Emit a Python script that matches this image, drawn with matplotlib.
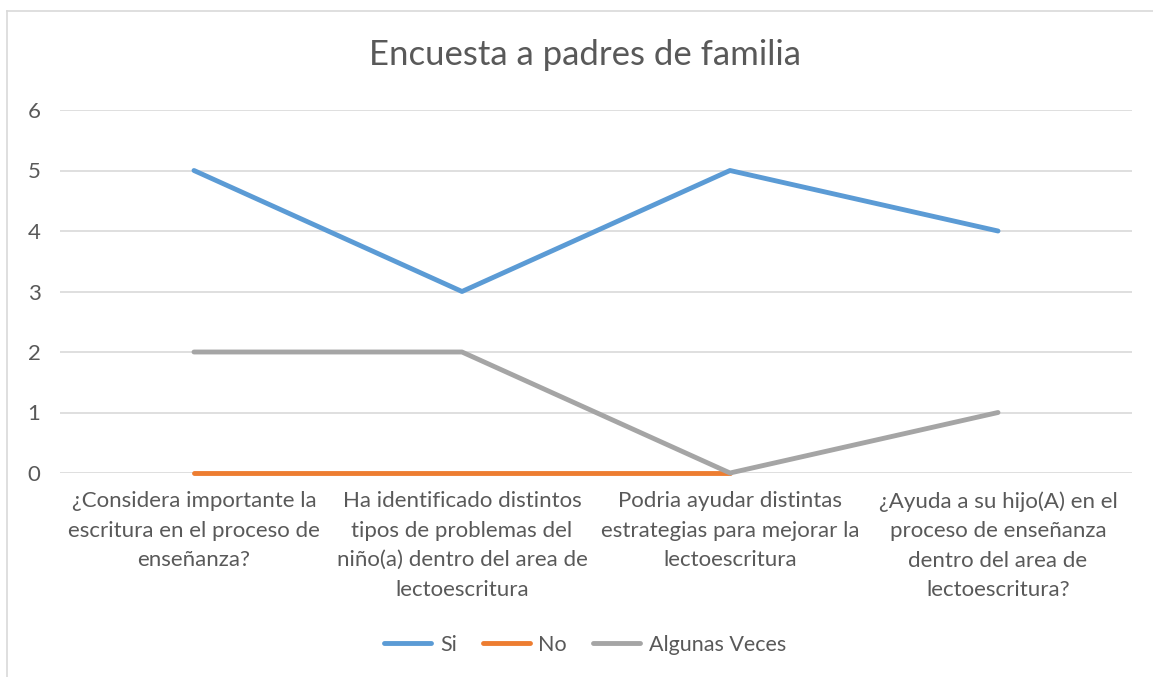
import matplotlib.pyplot as plt
import numpy as np
from matplotlib.lines import Line2D

plt.rcParams['font.family'] = ['Lato', 'DejaVu Sans']

# data ------------------------------
preguntas = ["¿Considera importante la\nescritura en el proceso de\nenseñanza?",
             "Ha identificado distintos\ntipos de problemas del\nniño(a) dentro del area de\nlectoescritura",
             "Podria ayudar distintas\nestrategias para mejorar la\nlectoescritura",
             "¿Ayuda a su hijo(A) en el\nproceso de enseñanza\ndentro del area de\nlectoescritura?"]
si = [5, 3, 5, 4]
no = [0, 0, 0, np.nan]
algunas = [2, 2, 0, 1]

gris = '#595959'

fig = plt.figure(figsize=(11.53, 6.77), dpi=100)
ax = fig.add_axes([60/1153, 1-473/677, 1072/1153, 363/677])

x = np.arange(len(preguntas))
ax.plot(x, si, color='#5B9BD5', lw=3.5, label='Si', solid_capstyle='round', zorder=3, clip_on=False)
ax.plot(x, no, color='#ED7D31', lw=3.5, label='No', solid_capstyle='round', zorder=3, clip_on=False)
ax.plot(x, algunas, color='#A5A5A5', lw=3.5, label='Algunas Veces', solid_capstyle='round', zorder=3, clip_on=False)

ax.set_xlim(-0.5, 3.5)
ax.set_ylim(0, 6)
ax.set_yticks(range(7))
ax.set_xticks(x)
ax.set_xticklabels(preguntas, linespacing=1.6)
ax.tick_params(axis='both', length=0, labelsize=16, labelcolor=gris)
ax.tick_params(axis='y', pad=14)
ax.tick_params(axis='x', pad=13)
ax.grid(axis='y', color='#D9D9D9', lw=1.2)
ax.set_axisbelow(True)
for s in ax.spines.values():
    s.set_visible(False)

fig.text(585/1153, 1-55/677, 'Encuesta a padres de familia', ha='center', va='center',
         fontsize=25, color=gris)

# border of chart -----------------
fig.add_artist(Line2D([7/1153, 7/1153], [0, 1-11/677], color='#D9D9D9', lw=1.2))
fig.add_artist(Line2D([7/1153, 1], [1-11/677, 1-11/677], color='#D9D9D9', lw=1.2))

leg = fig.legend(loc='center', bbox_to_anchor=(585/1153, 1-645/677), ncol=3, frameon=False,
                 fontsize=15.5, handlelength=2.2, handletextpad=0.4, columnspacing=1.2,
                 labelcolor=gris)
fig.savefig('out.png', dpi=100)
